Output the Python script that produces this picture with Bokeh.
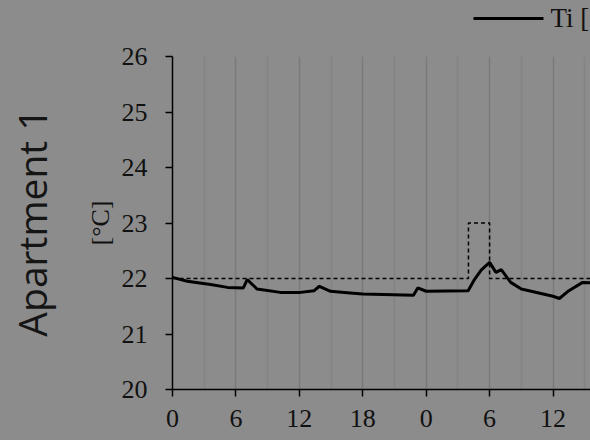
import math
from bokeh.plotting import figure
from bokeh.layouts import column, row
from bokeh.models import FixedTicker, Grid, Range1d
from bokeh.core.properties import value
from bokeh.embed import file_html
from bokeh.resources import INLINE

# ---- data ----
ti_hours = [0, 1.4, 3.6, 5.2, 6.7, 7.07, 8.0, 10.2, 12.1, 13.4, 13.9, 14.95, 16.8,
            18, 22.8, 23.2, 24, 27.97, 28.5, 29.2, 30, 30.6, 31.1, 32, 33, 36,
            36.6, 37.5, 38.8, 39.6]
ti_values = [22.02, 21.95, 21.89, 21.84, 21.83, 21.98, 21.81, 21.75, 21.75, 21.78,
             21.86, 21.77, 21.74, 21.72, 21.70, 21.83, 21.77, 21.78, 21.96, 22.15,
             22.29, 22.11, 22.16, 21.93, 21.81, 21.68, 21.64, 21.78, 21.93, 21.92]
sp_hours = [0, 28, 28, 30, 30, 48]
sp_values = [22, 22, 23, 23, 22, 22]
x_ticks = [0, 6, 12, 18, 24, 30, 36]
x_tick_labels = ["0", "6", "12", "18", "0", "6", "12"]
y_ticks = [20, 21, 22, 23, 24, 25, 26]
minor_grid = [3, 9, 15, 21, 27, 33, 39]
title_text = "Apartment 1"
unit_text = "[°C]"
series_name = "Ti [°C]"

# ---- layout constants (page pixels) ----
BG = "#8c8c8c"
W, H = 590, 440
LEFT_W = 80          # strip holding the big rotated title
TOP_H = 42           # strip holding the legend
FRAME_L, FRAME_T, FRAME_B = 172, 56, 389
px_per_h = 10.57
TITLE_X, TITLE_Y = 31, 222
KEY_X0, KEY_X1, KEY_Y = 473, 543, 18
KEY_TEXT_X, KEY_TEXT_Y = 550, 17


def strip(width, height, x0, x1, y0, y1):
    f = figure(width=width, height=height, output_backend="svg", toolbar_location=None,
               x_axis_type=None, y_axis_type=None, min_border_left=0, min_border_right=0,
               min_border_top=0, min_border_bottom=0)
    f.x_range = Range1d(x0, x1)
    f.y_range = Range1d(y0, y1)
    f.background_fill_color = BG
    f.border_fill_color = BG
    f.outline_line_color = None
    f.xgrid.visible = False
    f.ygrid.visible = False
    return f


# left strip: "Apartment 1"
lt = strip(LEFT_W, H, 0, LEFT_W, H, 0)
lt.text(x=[TITLE_X], y=[TITLE_Y], text=[title_text], angle=math.pi / 2,
        text_align="center", text_baseline="middle", text_font=value("Open Sans"),
        text_font_size="39px", text_color="#151515")

# top strip: legend key (its frame is aligned with the chart frame by the column)
tp = strip(W - LEFT_W, TOP_H, FRAME_L, W, TOP_H, 0)
tp.line(x=[KEY_X0, KEY_X1], y=[KEY_Y, KEY_Y], line_color="black", line_width=3)
tp.text(x=[KEY_TEXT_X], y=[KEY_TEXT_Y], text=[series_name], text_align="left",
        text_baseline="middle", text_font=value("Liberation Serif"),
        text_font_size="27px", text_color="#111111")

# ---- main chart ----
p = figure(width=W - LEFT_W, height=H - TOP_H, output_backend="svg",
           toolbar_location=None, min_border_left=FRAME_L - LEFT_W, min_border_right=0,
           min_border_top=FRAME_T - TOP_H, min_border_bottom=H - FRAME_B)
p.x_range = Range1d(0, (W - FRAME_L) / px_per_h)
p.y_range = Range1d(20, 26)
p.background_fill_color = BG
p.border_fill_color = BG
p.outline_line_color = None

p.xgrid.visible = False
p.ygrid.visible = False
p.add_layout(Grid(dimension=0, ticker=FixedTicker(ticks=minor_grid),
                  grid_line_color="#838383", grid_line_width=1.5))
p.add_layout(Grid(dimension=0, ticker=FixedTicker(ticks=x_ticks[1:]),
                  grid_line_color="#7a7a7a", grid_line_width=1.5))

p.line(sp_hours, sp_values, line_color="black", line_width=1.5, line_dash="4 3")
p.line(ti_hours, ti_values, line_color="black", line_width=3)

for ax in (p.xaxis[0], p.yaxis[0]):
    ax.axis_line_color = "black"
    ax.axis_line_width = 1.5
    ax.major_tick_line_color = "black"
    ax.major_tick_line_width = 1.5
    ax.major_tick_out = 7
    ax.major_tick_in = 0
    ax.minor_tick_line_color = None
    ax.major_label_text_font = "Liberation Serif"
    ax.major_label_text_font_size = "26px"
    ax.major_label_text_color = "#111111"

p.xaxis[0].ticker = FixedTicker(ticks=x_ticks)
p.xaxis[0].major_label_overrides = {t: l for t, l in zip(x_ticks, x_tick_labels)}
p.xaxis[0].major_label_standoff = 13
p.yaxis[0].ticker = FixedTicker(ticks=y_ticks)
p.yaxis[0].major_label_standoff = 18
p.yaxis[0].axis_label = unit_text
p.yaxis[0].axis_label_text_font = "Liberation Serif"
p.yaxis[0].axis_label_text_font_size = "26px"
p.yaxis[0].axis_label_text_font_style = "normal"
p.yaxis[0].axis_label_text_color = "#111111"
p.yaxis[0].axis_label_standoff = 4

layout = row(lt, column(tp, p, spacing=0), spacing=0)
html = file_html(layout, INLINE)
html = html.replace("<body>", '<body style="background-color:#8c8c8c">')
open("out.html", "w").write(html)
